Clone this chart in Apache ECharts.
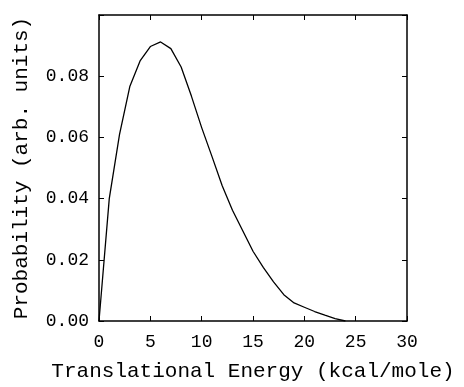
<!DOCTYPE html>
<html>
<head>
<meta charset="utf-8">
<script src="https://cdn.jsdelivr.net/npm/echarts@6/dist/echarts.min.js"></script>
<style>html,body{margin:0;padding:0;background:#fff}#c{width:464px;height:387px}</style>
</head>
<body>
<div id="c"></div>
<script>
var energy = [0, 1, 2, 3, 4, 5, 6, 7, 8, 9, 10, 11, 12, 13, 14, 15, 16, 17, 18, 19, 20, 21, 22, 23, 24];
var probability = [0, 0.040, 0.061, 0.0766, 0.085, 0.0897, 0.0912, 0.089, 0.083, 0.0735, 0.0632, 0.0538, 0.0442, 0.0362, 0.0295, 0.0228, 0.0175, 0.0128, 0.0086, 0.0059, 0.0045, 0.0031, 0.0019, 0.0008, 0];
var xTicks = [0, 5, 10, 15, 20, 25, 30];
var yTicks = [0, 0.02, 0.04, 0.06, 0.08, 0.10];
var xTitle = 'Translational Energy (kcal/mole)';
var yTitle = 'Probability (arb. units)';

var font = '"Liberation Mono", "DejaVu Sans Mono", monospace';
var chart = echarts.init(document.getElementById('c'), null, {renderer: 'canvas'});
var tickStyle = {show: true, inside: true, length: 5, lineStyle: {color: '#000', width: 1}};
var lineStyle = {color: '#000', width: 1.5};
chart.setOption({
  animation: false,
  backgroundColor: '#fff',
  grid: {left: 99, right: 57, top: 15, bottom: 64, show: false},
  xAxis: [{
    type: 'value', min: xTicks[0], max: xTicks[xTicks.length - 1], interval: 5,
    position: 'bottom',
    name: xTitle, nameLocation: 'middle', nameGap: 40,
    nameTextStyle: {fontFamily: font, fontSize: 21, color: '#000'},
    axisLine: {show: true, onZero: false, lineStyle: lineStyle},
    axisTick: tickStyle,
    axisLabel: {fontFamily: font, fontSize: 18, color: '#000', margin: 12},
    splitLine: {show: false}
  }, {
    type: 'value', min: xTicks[0], max: xTicks[xTicks.length - 1], interval: 5,
    position: 'top',
    axisLine: {show: true, onZero: false, lineStyle: lineStyle},
    axisTick: tickStyle,
    axisLabel: {show: false},
    splitLine: {show: false}
  }],
  yAxis: [{
    type: 'value', min: yTicks[0], max: yTicks[yTicks.length - 1], interval: 0.02,
    position: 'left',
    name: yTitle, nameLocation: 'middle', nameGap: 67,
    nameTextStyle: {fontFamily: font, fontSize: 21, color: '#000'},
    axisLine: {show: true, onZero: false, lineStyle: lineStyle},
    axisTick: tickStyle,
    axisLabel: {fontFamily: font, fontSize: 18, color: '#000', margin: 10,
      formatter: function (v) { return v >= 0.099 ? '' : v.toFixed(2); }},
    splitLine: {show: false}
  }, {
    type: 'value', min: yTicks[0], max: yTicks[yTicks.length - 1], interval: 0.02,
    position: 'right',
    axisLine: {show: true, onZero: false, lineStyle: lineStyle},
    axisTick: tickStyle,
    axisLabel: {show: false},
    splitLine: {show: false}
  }],
  series: [{
    type: 'line',
    xAxisIndex: 0, yAxisIndex: 0,
    data: energy.map(function (e, i) { return [e, probability[i]]; }),
    showSymbol: false,
    smooth: false,
    lineStyle: {color: '#000', width: 1.3}
  }]
});
</script>
</body>
</html>
